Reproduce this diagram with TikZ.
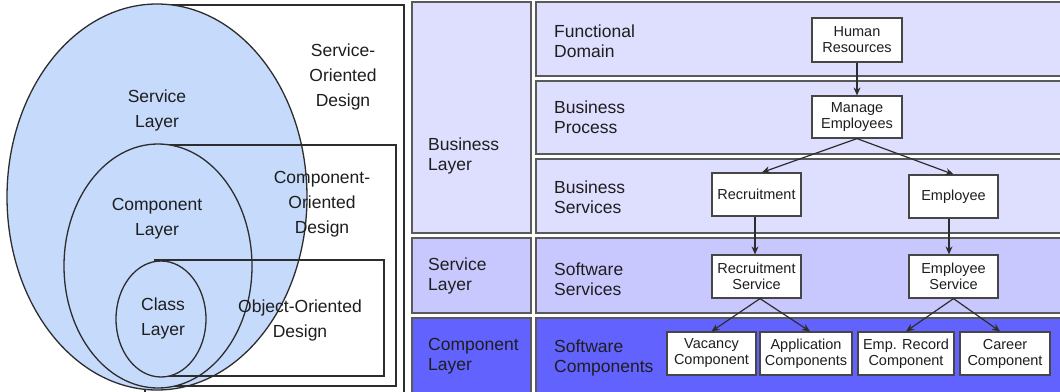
\documentclass[tikz,border=0pt]{standalone}
\usepackage{fontspec}
\setmainfont{Liberation Sans}
\usetikzlibrary{arrows.meta}
\definecolor{ellblue}{RGB}{198,218,252}
\definecolor{bizfill}{RGB}{222,222,255}
\definecolor{srvfill}{RGB}{200,200,255}
\definecolor{cmpfill}{RGB}{98,98,255}
\definecolor{panelline}{RGB}{90,90,90}
\definecolor{venline}{RGB}{45,45,45}
\definecolor{boxline}{RGB}{70,70,70}
\definecolor{txt}{RGB}{30,30,30}
\begin{document}
\begin{tikzpicture}[x=1pt,y=-1pt,
  venn/.style={draw=venline, line width=1.3pt},
  vennfill/.style={venn, fill=ellblue},
  vlabel/.style={text=txt, align=center, inner sep=0pt, font=\fontsize{17.5}{25}\selectfont},
  panel/.style={draw=panelline, line width=2pt},
  plabel/.style={text=txt, align=left, anchor=west, inner sep=0pt, font=\fontsize{17.5}{20}\selectfont},
  sbox/.style={draw=boxline, fill=white, line width=1.2pt, inner sep=0pt, align=center,
    text=txt, minimum height=43pt, font=\fontsize{14.5}{16}\selectfont},
  arr/.style={draw=venline, line width=1.2pt, -{Stealth[length=8pt,width=7pt]}}]
\useasboundingbox (0,0) rectangle (1060,391);
\fill[white] (0,0) rectangle (1060,391);
\begin{scope}
\clip (0,0) rectangle (1060,391);

% ---- nested design scopes (left) ----
\draw[venn] (145,5) rectangle (404,395);
\draw[vennfill] (157,197) ellipse [x radius=150, y radius=193];
\draw[venn] (163,145) rectangle (396,386);
\draw[vennfill] (158,266) ellipse [x radius=94, y radius=122];
\draw[venn] (155,260) rectangle (384,376);
\draw[vennfill] (161,319) ellipse [x radius=45, y radius=58];

\node[vlabel] (svl) at (157,110) {Service\\Layer};
\node[vlabel] (sod) at (343,77) {Service-\\Oriented\\Design};
\node[vlabel] (cpl) at (157,219) {Component\\Layer};
\node[vlabel] (cod) at (322,204) {Component-\\Oriented\\Design};
\node[vlabel] (cll) at (163,318) {Class\\Layer};
\node[vlabel] (ood) at (300,320) {Object-Oriented\\Design};

% ---- layered architecture (right) ----
\draw[panel, fill=bizfill] (412,1.5) rectangle (531,233);
\draw[panel, fill=srvfill] (412,238) rectangle (531,313);
\draw[panel, fill=cmpfill] (412,318) rectangle (531,396);
\draw[panel, fill=bizfill] (536,1.5) rectangle (1066,76);
\draw[panel, fill=bizfill] (536,81) rectangle (1066,154);
\draw[panel, fill=bizfill] (536,159) rectangle (1066,233);
\draw[panel, fill=srvfill] (536,238) rectangle (1066,313);
\draw[panel, fill=cmpfill] (536,318) rectangle (1066,396);

\node[plabel] (bl) at (428,156) {Business\\Layer};
\node[plabel] (sl) at (428,276) {Service\\Layer};
\node[plabel] (cl) at (428,356) {Component\\Layer};
\node[plabel] (fd) at (554,41) {Functional\\Domain};
\node[plabel] (bp) at (554,117) {Business\\Process};
\node[plabel] (bs) at (554,197) {Business\\Services};
\node[plabel] (ss) at (554,279) {Software\\Services};
\node[plabel] (sc) at (554,358) {Software\\Components};

\node[sbox, minimum width=90pt, minimum height=44pt] (hr) at (857,40) {Human\\Resources};
\node[sbox, minimum width=90pt, minimum height=42pt] (mge) at (857,117) {Manage\\Employees};
\node[sbox, minimum width=89pt] (rec) at (756.5,194.5) {Recruitment};
\node[sbox, minimum width=89pt] (emp) at (953.5,196.5) {Employee};
\node[sbox, minimum width=89pt] (recs) at (756.5,276.5) {Recruitment\\Service};
\node[sbox, minimum width=89pt] (emps) at (953.5,276.5) {Employee\\Service};
\node[sbox, minimum width=89pt] (vac) at (711.5,353.5) {Vacancy\\Component};
\node[sbox, minimum width=92pt] (app) at (806,353.5) {Application\\Components};
\node[sbox, minimum width=96pt] (erec) at (906,353.5) {Emp. Record\\Component};
\node[sbox, minimum width=90pt] (car) at (1005,353.5) {Career\\Component};

\draw[arr] (hr.south) -- (mge.north);
\draw[arr] (mge.south) -- ([xshift=5.5pt]rec.north);
\draw[arr] (mge.south) -- (emp.north);
\draw[arr] ([xshift=-1.5pt]rec.south) -- ([xshift=-1.5pt]recs.north);
\draw[arr] ([xshift=-4.5pt]emp.south) -- ([xshift=-4.5pt]emps.north);
\draw[arr] ([xshift=3.5pt]recs.south) -- (vac.north);
\draw[arr] ([xshift=3.5pt]recs.south) -- ([xshift=4pt]app.north);
\draw[arr] (emps.south) -- (erec.north);
\draw[arr] (emps.south) -- ([xshift=-5pt]car.north);
\end{scope}
\end{tikzpicture}
\end{document}
